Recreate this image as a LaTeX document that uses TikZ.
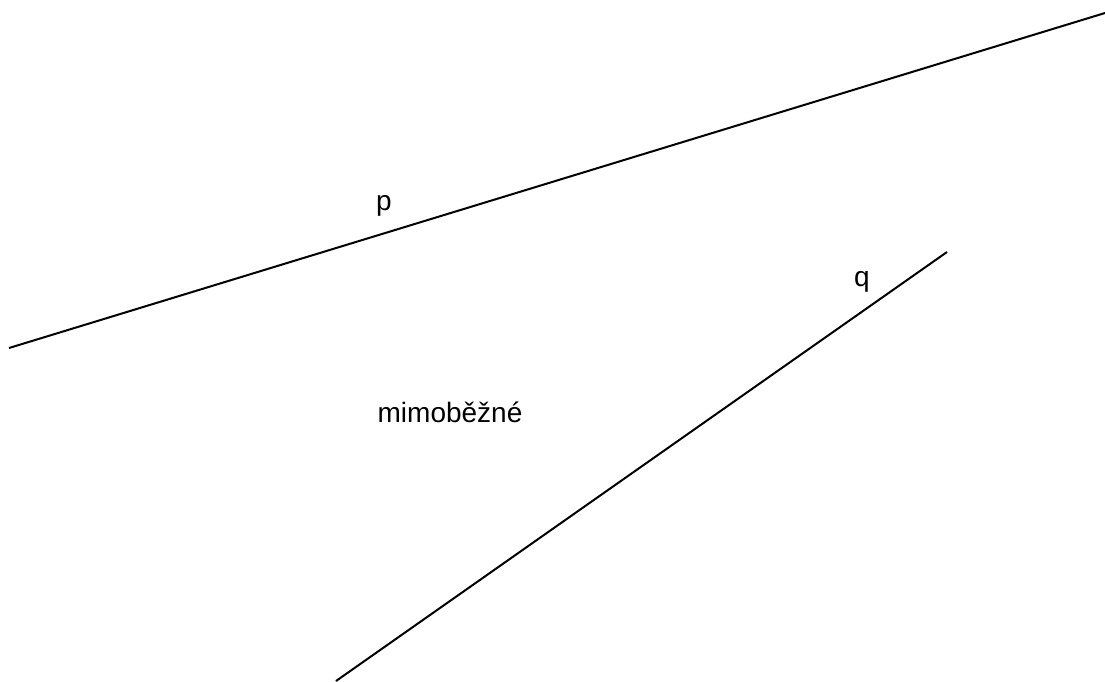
\documentclass[tikz,border=0pt]{standalone}
\usepackage{fontspec}
\setmainfont{Liberation Sans}
\begin{document}
\begin{tikzpicture}[x=1pt,y=-1pt,
  ln/.style={line width=2pt, black},
  lbl/.style={font=\fontsize{28}{32}\selectfont, inner sep=0pt}]
\useasboundingbox (0,0) rectangle (1105,681);
\coordinate (p1) at (9,348);
\coordinate (p2) at (1105,13);
\coordinate (q1) at (336,681);
\coordinate (q2) at (947,252);
\draw[ln] (p1) -- (p2);
\draw[ln] (q1) -- (q2);
\node[lbl] (p) at (384,206) {p};
\node[lbl] (q) at (862,282) {q};
\node[lbl] (m) at (450,412) {mimoběžné};
\end{tikzpicture}
\end{document}
